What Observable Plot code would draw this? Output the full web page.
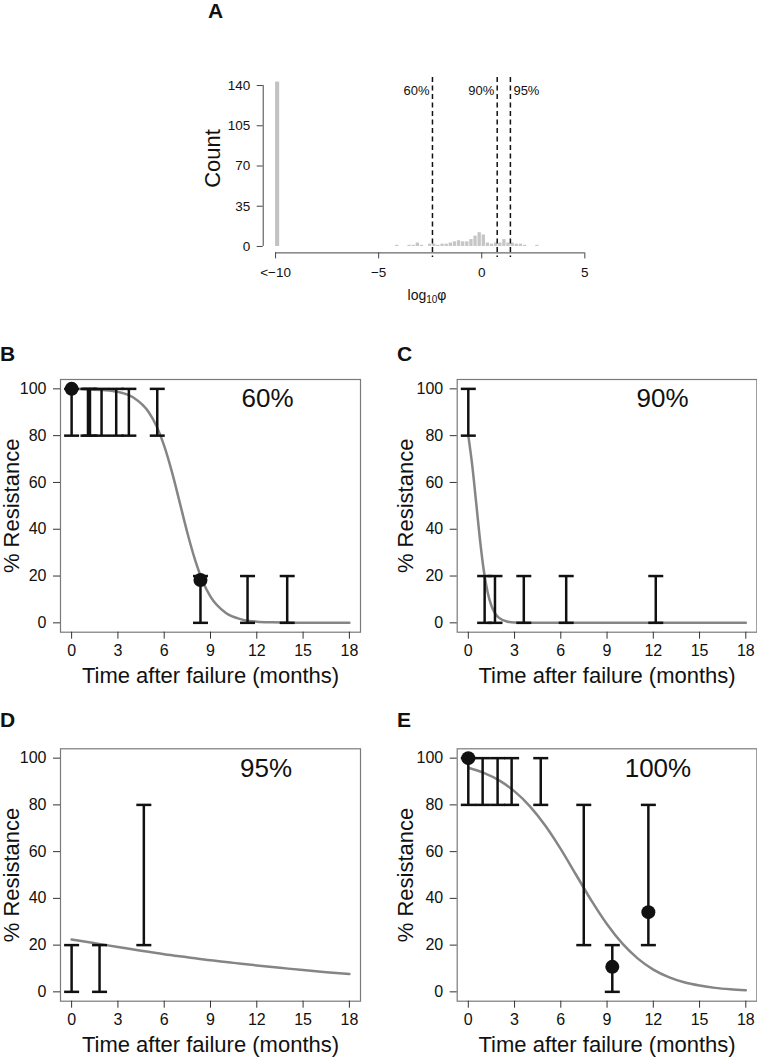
<!DOCTYPE html>
<html>
<head>
<meta charset="utf-8">
<script src="https://cdn.jsdelivr.net/npm/d3@7"></script>
<script src="https://cdn.jsdelivr.net/npm/@observablehq/plot@0.6"></script>
<style>
  html, body { margin: 0; padding: 0; background: #fff; }
  #root { position: relative; width: 757px; height: 1057px; overflow: hidden;
          font-family: "Liberation Sans", Arial, Helvetica, sans-serif; color: #111; }
  .panel { position: absolute; }
  .panel svg { display: block; overflow: visible; }
  .letter { position: absolute; font-weight: bold; font-size: 21px; line-height: 1; }
  .xlabA { position: absolute; font-size: 14px; line-height: 1; transform: translate(-50%, -50%); white-space: nowrap; }
  .xlabA sub { font-size: 10px; vertical-align: -3px; }
</style>
</head>
<body>
<div id="root"></div>
<script>
// ---------------- Panel A data (histogram of log10 phi) ----------------
const spikeBinLeft = -10;          // "<-10" bin
const spikeBinRight = -9.8;
const spikeCount = 143;
const histBinLeft = [-4.2, -4.0, -3.8, -3.6, -3.4, -3.2, -3.0, -2.8, -2.6, -2.4, -2.2, -2.0,
                     -1.8, -1.6, -1.4, -1.2, -1.0, -0.8, -0.6, -0.4, -0.2, 0.0, 0.2, 0.4,
                     0.6, 0.8, 1.0, 1.2, 1.4, 1.6, 1.8, 2.0, 2.2, 2.4, 2.6];
const histCounts  = [1, 0, 0, 1, 1, 3, 1, 0, 2, 2, 1, 2,
                     2, 3, 4, 5, 4, 4, 6, 9, 12, 10, 3, 2,
                     3, 3, 6, 3, 3, 2, 2, 1, 0, 0, 1];
const histBinWidth = 0.2;
const thresholdLabels = ["60%", "90%", "95%"];
const thresholdValues = [-2.39, 0.75, 1.39];
const xTicksA = [-10, -5, 0, 5];
const xTickLabelsA = ["<\u221210", "\u22125", "0", "5"];
const yTicksA = [0, 35, 70, 105, 140];

// ---------------- Panels B-E data ----------------
const xTicksT = [0, 3, 6, 9, 12, 15, 18];
const yTicksR = [0, 20, 40, 60, 80, 100];

// B (60%)
const barTimesB = [0, 1.06, 1.19, 1.94, 2.89, 3.71, 5.55, 8.35, 11.4, 13.97];
const barLowB   = [80, 80, 80, 80, 80, 80, 80, 0, 0, 0];
const barHighB  = [100, 100, 100, 100, 100, 100, 100, 20, 20, 20];
const pointTimesB  = [0, 8.35];
const pointValuesB = [100, 18.3];
const curveTimesB  = [0, 1, 2, 3, 4, 5, 5.5, 6, 6.5, 7, 7.5, 8, 8.5, 9, 10, 11, 12, 13, 14, 15, 16, 17, 18];
const curveValuesB = [100, 99.8, 99.5, 98.7, 96.3, 90.0, 84.1, 75.6, 64.5, 51.6, 38.5, 26.9, 17.7, 11.2, 4.2, 1.5, 0.5, 0.2, 0.1, 0, 0, 0, 0];

// C (90%)
const barTimesC = [0, 1.06, 1.73, 3.6, 6.35, 12.16];
const barLowC   = [80, 0, 0, 0, 0, 0];
const barHighC  = [100, 20, 20, 20, 20, 20];
const pointTimesC  = [];
const pointValuesC = [];
const curveTimesC  = [0, 0.25, 0.5, 0.75, 1, 1.25, 1.5, 1.75, 2, 2.5, 3, 4, 6, 9, 12, 15, 18];
const curveValuesC = [80, 67.6, 52, 36, 22.6, 13.2, 7.3, 3.9, 2.1, 0.6, 0.15, 0, 0, 0, 0, 0, 0];

// D (95%)
const barTimesD = [0, 1.81, 4.68];
const barLowD   = [0, 0, 20];
const barHighD  = [20, 20, 80];
const pointTimesD  = [];
const pointValuesD = [];
const curveTimesD  = [0, 1.5, 3, 4.5, 6, 7.5, 9, 10.5, 12, 13.5, 15, 16.5, 18];
const curveValuesD = [22.4, 20.8, 19.2, 17.6, 16.1, 14.8, 13.5, 12.4, 11.3, 10.3, 9.3, 8.4, 7.6];

// E (100%)
const barTimesE = [0, 0.93, 1.9, 2.81, 4.7, 7.49, 9.34, 11.68];
const barLowE   = [80, 80, 80, 80, 80, 20, 0, 20];
const barHighE  = [100, 100, 100, 100, 100, 80, 20, 80];
const pointTimesE  = [0, 9.34, 11.68];
const pointValuesE = [100, 10.7, 34.1];
const curveTimesE  = [0, 1, 2, 3, 4, 5, 6, 7, 8, 9, 10, 11, 12, 13, 14, 15, 16, 17, 18];
const curveValuesE = [95.9, 93.7, 90.5, 85.8, 79.4, 71.1, 61.1, 50, 38.9, 28.9, 20.6, 14.2, 9.5, 6.3, 4.1, 2.7, 1.7, 1.1, 0.7];

const panelLabels = ["60%", "90%", "95%", "100%"];
const panelLabelTimes = [12.7, 12.6, 12.6, 12.3];
const panelLabelValue = 95.7;

// ---------------- helpers ----------------
const FONT = '"Liberation Sans", Arial, Helvetica, sans-serif';
const root = document.getElementById("root");
// R-style 4% axis extension
const ext = (a, b) => [a - (b - a) * 0.04, b + (b - a) * 0.04];
const zip2 = (xs, ys, kx, ky) => xs.map((x, i) => ({[kx]: x, [ky]: ys[i]}));

function place(node, left, top) {
  const wrap = document.createElement("div");
  wrap.className = "panel";
  wrap.style.left = left + "px";
  wrap.style.top = top + "px";
  wrap.appendChild(node);
  root.appendChild(wrap);
}
function letter(txt, left, top) {
  const d = document.createElement("div");
  d.className = "letter";
  d.textContent = txt;
  d.style.left = left + "px";
  d.style.top = top + "px";
  root.appendChild(d);
}

// ---------------- Panel A ----------------
(function () {
  const xDom = ext(xTicksA[0], xTicksA[xTicksA.length - 1]);
  const yDom = ext(yTicksA[0], yTicksA[yTicksA.length - 1]);
  const hist = histBinLeft.map((x, i) => ({x1: x, x2: x + histBinWidth, n: histCounts[i]})).filter(d => d.n > 0);
  const spike = [{x1: spikeBinLeft, x2: spikeBinRight, n: spikeCount}];
  const thr = thresholdLabels.map((l, i) => ({label: l, v: thresholdValues[i], i}));
  const thrLeft = thr.slice(0, thr.length - 1);   // labels drawn left of their line
  const thrRight = thr.slice(thr.length - 1);     // last label drawn right of its line
  const labelMap = new Map(xTicksA.map((t, i) => [t, xTickLabelsA[i]]));
  const W = 757, H = 320;
  const plot = Plot.plot({
    width: W, height: H,
    marginLeft: 262.7, marginRight: 160.3, marginTop: 78.6, marginBottom: H - 252.4,
    x: {domain: xDom, axis: null},
    y: {domain: yDom, axis: null},
    style: {fontFamily: FONT, fontSize: "13.5px", color: "#111", background: "transparent"},
    marks: [
      Plot.rectY(spike, {x1: "x1", x2: "x2", y1: 0, y2: "n", fill: "#c2c2c2"}),
      Plot.rectY(hist, {x1: "x1", x2: "x2", y1: 0, y2: "n", fill: "#c6c6c6", insetLeft: 0.4, insetRight: 0.4}),
      Plot.ruleX(thr, {x: "v", stroke: "#111", strokeWidth: 1.5, strokeDasharray: "5,3.5", insetTop: -1.5, insetBottom: -4.5}),
      Plot.text(thrLeft, {x: "v", text: "label", frameAnchor: "top", lineAnchor: "middle", textAnchor: "end",
        dy: 11.5, dx: -3, fontSize: 13, fill: "#111"}),
      Plot.text(thrRight, {x: "v", text: "label", frameAnchor: "top", lineAnchor: "middle", textAnchor: "start",
        dy: 11.5, dx: 3, fontSize: 13, fill: "#111"}),
      // axis lines (R style, spanning first to last tick)
      Plot.ruleY([yDom[0]], {x1: xTicksA[0], x2: xTicksA[xTicksA.length - 1], stroke: "#444"}),
      Plot.ruleX([xDom[0]], {y1: yTicksA[0], y2: yTicksA[yTicksA.length - 1], stroke: "#444"}),
      Plot.axisX({anchor: "bottom", ticks: xTicksA, tickFormat: d => labelMap.get(d), tickSize: 6, tickPadding: 8.5,
                  stroke: "#444", fill: "#111", label: null, fontSize: 13.5}),
      Plot.axisY({anchor: "left", ticks: yTicksA, tickSize: 6, tickPadding: 7, stroke: "#444", fill: "#111",
                  label: null, fontSize: 13.5}),
      Plot.text(["Count"], {frameAnchor: "left", textAnchor: "middle", lineAnchor: "middle",
        dx: -50, dy: -7.5, rotate: -90, fontSize: 22, fill: "#111"})
    ]
  });
  place(plot, 0, 0);
  const xl = document.createElement("div");
  xl.className = "xlabA";
  xl.innerHTML = "log<sub>10</sub>\u03c6";
  xl.style.left = "427px";
  xl.style.top = "296px";
  root.appendChild(xl);
  letter("A", 208, -0.3);
})();

// ---------------- Panels B-E ----------------
const capSymbol = {
  draw(ctx) { ctx.moveTo(-7.5, 0); ctx.lineTo(7.5, 0); }
};

function resistancePanel(opt) {
  const xDom = ext(xTicksT[0], xTicksT[xTicksT.length - 1]);
  const yDom = ext(yTicksR[0], yTicksR[yTicksR.length - 1]);
  const bars = opt.times.map((t, i) => ({t, lo: opt.lo[i], hi: opt.hi[i]}));
  const caps = bars.flatMap(b => [{t: b.t, v: b.lo}, {t: b.t, v: b.hi}]);
  const pts = zip2(opt.pt, opt.pv, "t", "v");
  const curve = zip2(opt.ct, opt.cv, "t", "v");
  const H = opt.height;
  const plot = Plot.plot({
    width: opt.width, height: H,
    marginLeft: opt.ml, marginRight: opt.mr, marginTop: opt.mt, marginBottom: H - opt.frameBottom,
    x: {domain: xDom, axis: null},
    y: {domain: yDom, axis: null},
    style: {fontFamily: FONT, fontSize: "16px", color: "#111", background: "transparent"},
    marks: [
      Plot.frame({stroke: "#7a7a7a", strokeWidth: 1.2}),
      Plot.axisX({anchor: "bottom", ticks: xTicksT, tickSize: 7, tickPadding: 5, stroke: "#333", fill: "#111",
                  label: null, fontSize: 16}),
      Plot.axisY({anchor: "left", ticks: yTicksR, tickSize: 7, tickPadding: 7, stroke: "#333", fill: "#111",
                  label: null, fontSize: 16}),
      Plot.line(curve, {x: "t", y: "v", curve: "monotone-x", stroke: "#858585", strokeWidth: 2.5}),
      Plot.ruleX(bars, {x: "t", y1: "lo", y2: "hi", stroke: "#111", strokeWidth: 2.5}),
      Plot.dot(caps, {x: "t", y: "v", symbol: capSymbol, r: 5, stroke: "#111", strokeWidth: 2.5, fill: "none"}),
      Plot.dot(pts, {x: "t", y: "v", r: 7, fill: "#111", stroke: "none"}),
      Plot.text([opt.label], {x: opt.labelT, y: panelLabelValue, fontSize: 26, fill: "#111"}),
      Plot.text(["Time after failure (months)"], {frameAnchor: "bottom", textAnchor: "middle", lineAnchor: "middle",
        dy: 43.5, fontSize: 22, fill: "#111"}),
      Plot.text(["% Resistance"], {frameAnchor: "left", textAnchor: "middle", lineAnchor: "middle",
        dx: opt.ylabDx, rotate: -90, fontSize: 22, fill: "#111"})
    ]
  });
  place(plot, opt.left, opt.top);
}

resistancePanel({left: 0, top: 330, width: 378, height: 365, ml: 60, mr: 18, mt: 49, frameBottom: 301.7, ylabDx: -48.5,
  times: barTimesB, lo: barLowB, hi: barHighB, pt: pointTimesB, pv: pointValuesB,
  ct: curveTimesB, cv: curveValuesB, label: panelLabels[0], labelT: panelLabelTimes[0]});
resistancePanel({left: 380, top: 330, width: 377, height: 365, ml: 76.7, mr: 0.6, mt: 49, frameBottom: 301.7, ylabDx: -51.7,
  times: barTimesC, lo: barLowC, hi: barHighC, pt: pointTimesC, pv: pointValuesC,
  ct: curveTimesC, cv: curveValuesC, label: panelLabels[1], labelT: panelLabelTimes[1]});
resistancePanel({left: 0, top: 700, width: 378, height: 357, ml: 60, mr: 18, mt: 48.3, frameBottom: 300.7, ylabDx: -48.5,
  times: barTimesD, lo: barLowD, hi: barHighD, pt: pointTimesD, pv: pointValuesD,
  ct: curveTimesD, cv: curveValuesD, label: panelLabels[2], labelT: panelLabelTimes[2]});
resistancePanel({left: 380, top: 700, width: 377, height: 357, ml: 76.7, mr: 0.6, mt: 48.3, frameBottom: 300.7, ylabDx: -51.7,
  times: barTimesE, lo: barLowE, hi: barHighE, pt: pointTimesE, pv: pointValuesE,
  ct: curveTimesE, cv: curveValuesE, label: panelLabels[3], labelT: panelLabelTimes[3]});

letter("B", 0, 343);
letter("C", 397, 343);
letter("D", 0, 708.5);
letter("E", 397, 708.5);
</script>
</body>
</html>
